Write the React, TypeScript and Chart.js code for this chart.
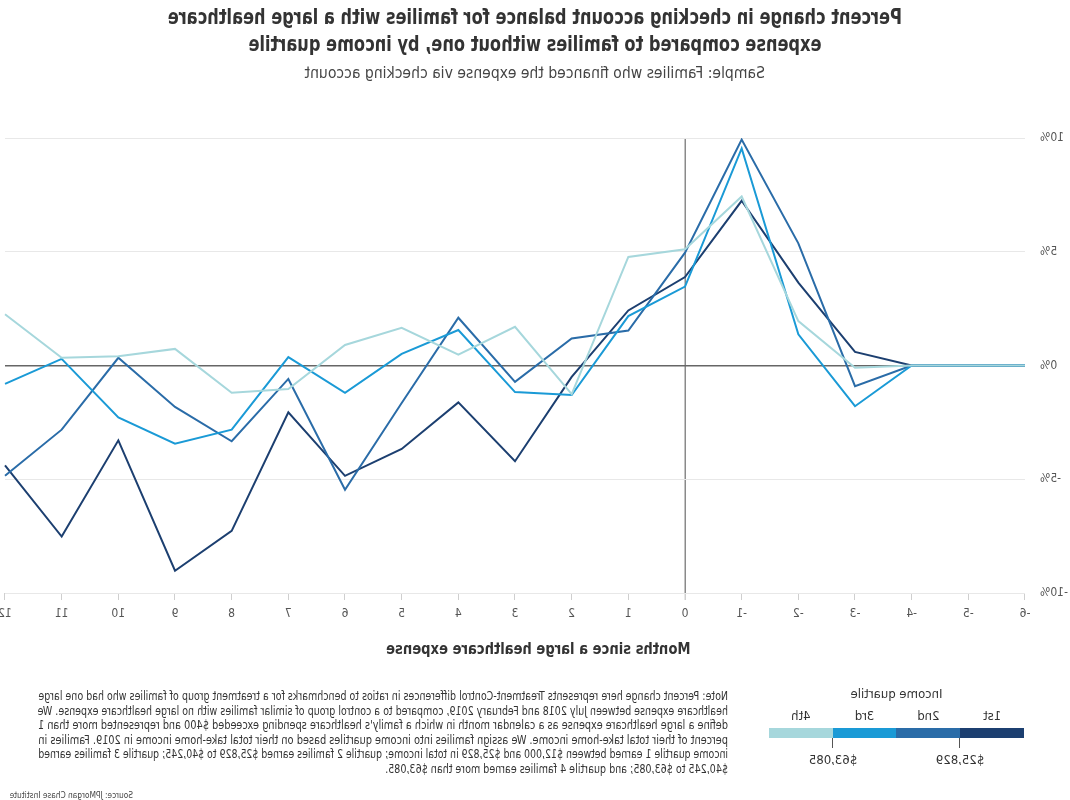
import React, { useEffect, useLayoutEffect, useRef } from "react";
import { Chart, registerables } from "chart.js";

Chart.register(...registerables);

const months = ["-6", "-5", "-4", "-3", "-2", "-1", "0", "1", "2", "3", "4", "5", "6", "7", "8", "9", "10", "11", "12"];
const q1 = [0, 0, 0, 0.6, 3.64, 7.24, 3.89, 2.42, -0.5, -4.21, -1.62, -3.67, -4.85, -2.06, -7.27, -9.02, -3.29, -7.52, -4.39];
const q2 = [0, 0, 0, -0.91, 5.37, 9.93, 4.96, 1.54, 1.19, -0.72, 2.1, -1.65, -5.46, -0.59, -3.33, -1.82, 0.34, -2.82, -4.85];
const q3 = [0, 0, 0, -1.79, 1.37, 9.54, 3.47, 2.17, -1.3, -1.17, 1.56, 0.51, -1.2, 0.37, -2.82, -3.44, -2.28, 0.29, -0.81];
const q4 = [0, 0, 0, -0.1, 1.95, 7.43, 5.11, 4.77, -1.26, 1.7, 0.48, 1.66, 0.9, -1.03, -1.2, 0.73, 0.41, 0.34, 2.25];
const quartileNames = ["1st", "2nd", "3rd", "4th"];
const quartileColors = ["#1c3f70", "#2a6ca8", "#1a9ad6", "#a6d7dc"];
const yTicks = [-10, -5, 0, 5, 10];
const legendCuts = ["$25,829", "$63,085"];

const FONT = "'DejaVu Sans Condensed', 'Liberation Sans Narrow', 'Roboto', sans-serif";

const titleLines = [
  "Percent change in checking account balance for families with a large healthcare",
  "expense compared to families without one, by income quartile",
];
const subtitle = "Sample: Families who financed the expense via checking account";
const xTitle = "Months since a large healthcare expense";
const noteLines = [
  "Note: Percent change here represents Treatment-Control differences in ratios to benchmarks for a treatment group of families who had one large",
  "healthcare expense between July 2018 and February 2019, compared to a control group of similar families with no large healthcare expense. We",
  "define a large healthcare expense as a calendar month in which a family's healthcare spending exceeded $400 and represented more than 1",
  "percent of their total take-home income. We assign families into income quartiles based on their total take-home income in 2019. Families in",
  "income quartile 1 earned between $12,000 and $25,829 in total income; quartile 2 families earned $25,829 to $40,245; quartile 3 families earned",
  "$40,245 to $63,085; and quartile 4 families earned more than $63,085.",
];
const source = "Source: JPMorgan Chase Institute";

// Squeeze a single line of text horizontally so it spans `target` px (condensed look)
function Squeeze({ text, target, scale, left, top, center, cx, style }: any) {
  const r = useRef<HTMLSpanElement | null>(null);
  useLayoutEffect(() => {
    const el = r.current;
    if (!el) return;
    const w = el.offsetWidth;
    const s = scale != null ? scale : target / w;
    el.style.transform = `scaleX(${s})`;
  });
  const c = cx != null ? cx : 535;
  const wrap: any = center
    ? { position: "absolute", left: c - 535, width: 1070, top, textAlign: "center" }
    : { position: "absolute", left, top };
  return (
    <div style={wrap}>
      <span ref={r} style={{ display: "inline-block", whiteSpace: "nowrap", transformOrigin: center ? "50% 50%" : "0 50%", ...style }}>
        {text}
      </span>
    </div>
  );
}

export default function App() {
  const ref = useRef<HTMLCanvasElement | null>(null);

  useEffect(() => {
    if (!ref.current) return;
    const series = [q4, q3, q2, q1];
    const idx = [3, 2, 1, 0];
    const chart = new Chart(ref.current, {
      type: "line",
      data: {
        labels: months,
        datasets: series.map((d, i) => ({
          label: quartileNames[idx[i]],
          data: d,
          borderColor: quartileColors[idx[i]],
          backgroundColor: quartileColors[idx[i]],
          borderWidth: 2,
          pointRadius: 0,
          tension: 0,
          fill: false,
        })),
      },
      options: {
        responsive: false,
        animation: false,
        layout: { padding: { top: 138, right: 5, left: 0, bottom: 0 } },
        plugins: { legend: { display: false }, tooltip: { enabled: false }, title: { display: false } },
        scales: {
          x: {
            type: "category",
            offset: false,
            border: { display: false },
            grid: {
              color: (ctx: any) => (ctx.index === 6 ? "#8a8a8a" : "rgba(0,0,0,0)"),
              lineWidth: (ctx: any) => (ctx.index === 6 ? 1.5 : 1),
              drawTicks: true,
              tickLength: 7,
              tickColor: "#cfcfcf",
            },
            ticks: { color: "#555", font: { family: FONT, size: 12 }, padding: 7, maxRotation: 0, autoSkip: false },
            afterFit: (s: any) => {
              s.height = 87;
              s.paddingLeft = 0;
              s.paddingRight = 0;
            },
          },
          y: {
            min: -10,
            max: 10,
            border: { display: false },
            afterBuildTicks: (s: any) => { s.ticks = yTicks.map((v) => ({ value: v })); },
            grid: {
              color: (ctx: any) => (ctx.tick && ctx.tick.value === 0 ? "#666" : "#e8e8e8"),
              lineWidth: (ctx: any) => (ctx.tick && ctx.tick.value === 0 ? 1.5 : 1),
              drawTicks: false,
            },
            ticks: {
              color: "#555",
              font: { family: FONT, size: 12 },
              padding: 15,
              callback: (v: any) => `${v}%`,
            },
            afterFit: (s: any) => { s.width = 45; },
          },
        },
      },
    });
    return () => chart.destroy();
  }, []);

  const noteScale = 0.885;

  return (
    <div style={{ position: "absolute", left: 0, top: 0, width: 1070, height: 800, background: "#fff", transform: "scaleX(-1)", fontFamily: FONT, overflow: "hidden" }}>
      <Squeeze text={titleLines[0]} target={734} center top={4} style={{ fontSize: 21, fontWeight: "bold", lineHeight: "26px", color: "#333" }} />
      <Squeeze text={titleLines[1]} scale={0.858} center top={31} style={{ fontSize: 21, fontWeight: "bold", lineHeight: "26px", color: "#333" }} />
      <Squeeze text={subtitle} target={460} center top={63} style={{ fontSize: 16, lineHeight: "20px", color: "#444" }} />

      <canvas ref={ref} width={1070} height={680} style={{ position: "absolute", left: 0, top: 0 }} />

      <Squeeze text={xTitle} target={304} center cx={532} top={639} style={{ fontSize: 16, fontWeight: "bold", lineHeight: "20px", color: "#333" }} />

      {noteLines.map((l, i) => (
        <Squeeze
          key={i}
          text={l}
          target={i < noteLines.length - 1 ? 690 : undefined}
          scale={i < noteLines.length - 1 ? undefined : noteScale}
          left={342}
          top={685 + i * 14.5}
          style={{ fontSize: 12, lineHeight: "14.5px", color: "#333" }}
        />
      ))}
      <Squeeze text={source} target={123} left={937} top={783} style={{ fontSize: 9, lineHeight: "12px", color: "#444" }} />

      <div style={{ position: "absolute", left: 46, top: 686, width: 255, textAlign: "center", fontSize: 13, color: "#333" }}>Income quartile</div>
      {quartileNames.map((n, i) => (
        <div key={n} style={{ position: "absolute", left: 46 + i * 63.75, top: 708, width: 63.75, textAlign: "center", fontSize: 13, color: "#333" }}>{n}</div>
      ))}
      {quartileColors.map((c, i) => (
        <div key={c} style={{ position: "absolute", left: 46 + i * 63.75, top: 728, width: 64, height: 10, background: c }} />
      ))}
      {legendCuts.map((t, i) => {
        const x = i === 0 ? 110 : 237;
        return (
          <React.Fragment key={t}>
            <div style={{ position: "absolute", left: x, top: 738, width: 1, height: 10, background: "#555" }} />
            <div style={{ position: "absolute", left: x - 40, top: 752, width: 80, textAlign: "center", fontSize: 13, color: "#333" }}>{t}</div>
          </React.Fragment>
        );
      })}
    </div>
  );
}
